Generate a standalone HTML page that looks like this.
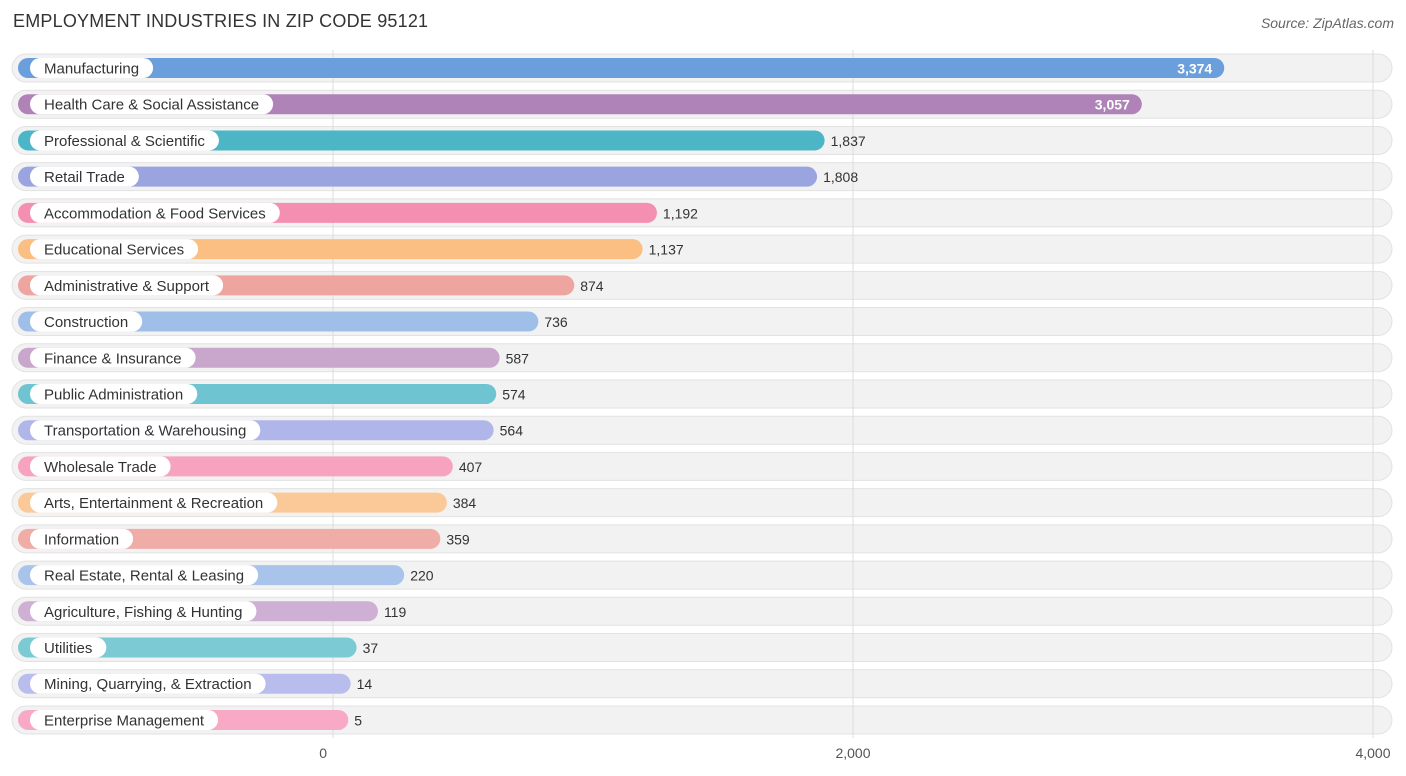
<!DOCTYPE html>
<html><head><meta charset="utf-8"><style>
body{margin:0;background:#fff;font-family:"Liberation Sans",sans-serif;}
#wrap{position:relative;width:1406px;height:776px;overflow:hidden;}
.title{position:absolute;left:13px;top:11px;font-size:18px;color:#333;letter-spacing:0.2px}
.src{position:absolute;right:12px;top:15px;font-size:14px;color:#666;font-style:italic}
</style></head><body>
<div id="wrap">
<div class="title">EMPLOYMENT INDUSTRIES IN ZIP CODE 95121</div>
<div class="src">Source: ZipAtlas.com</div>
<svg id="svg" width="1406" height="776" style="position:absolute;left:0;top:0"></svg>
</div>
<script>
const categories=["Manufacturing","Health Care & Social Assistance","Professional & Scientific","Retail Trade","Accommodation & Food Services","Educational Services","Administrative & Support","Construction","Finance & Insurance","Public Administration","Transportation & Warehousing","Wholesale Trade","Arts, Entertainment & Recreation","Information","Real Estate, Rental & Leasing","Agriculture, Fishing & Hunting","Utilities","Mining, Quarrying, & Extraction","Enterprise Management"];
const values=[3374,3057,1837,1808,1192,1137,874,736,587,574,564,407,384,359,220,119,37,14,5];
const tickValues=[0,2000,4000];
const tickLabels=["0","2,000","4,000"];
const colors=["#6a9fdc","#b083b8","#4db6c6","#9aa5e0","#f48fb1","#fbbf84","#eea59f","#9fbfe8","#c9a6cc","#6fc4d1","#b0b6ea","#f7a3bf","#fbc997","#f0aca6","#a9c4ea","#cdb0d3","#7ccbd4","#b9bdee","#f8a9c6"];
const NS="http://www.w3.org/2000/svg";
const svg=document.getElementById('svg');
const x=v=>333+v*0.26;
const y=i=>68+i*36.22;
function mk(t,a,p){const e=document.createElementNS(NS,t);for(const k in a)e.setAttribute(k,a[k]);(p||svg).appendChild(e);return e;}
// row backgrounds
categories.forEach((c,i)=>{
  const r=mk('rect',{x:12,y:y(i)-14,width:1380,height:28,rx:14,fill:'#f2f2f2',stroke:'#e2e2e2'});
  
  
});
// gridlines
tickValues.forEach((t,j)=>{
  const l=mk('line',{x1:x(t),x2:x(t),y1:50,y2:738,stroke:'#dcdcdc','stroke-width':1});
  
  
  const tx=mk('text',{x:x(t),y:758,'text-anchor':j==0?'end':(j==2?'middle':'middle'),'font-size':14,fill:'#555'});
  if(j==0)tx.setAttribute('x',x(t)-6);
  tx.textContent=tickLabels[j];
  
  
});
categories.forEach((c,i)=>{
  const cy=y(i);
  const end=x(values[i])+14;
  const b=mk('rect',{x:18,y:cy-10,width:end-18,height:20,rx:10,fill:colors[i]});
  
  
  const t=mk('text',{x:44,y:cy+5.5,'font-size':15,fill:'#333'});
  t.textContent=c;
  const w=t.getComputedTextLength();
  const p=mk('rect',{x:30,y:cy-10,width:w+28,height:20,rx:10,fill:'#fff'});
  svg.insertBefore(p,t);
  
  
  
  
  const lbl=values[i].toLocaleString('en-US');
  const inside=values[i]>2500;
  const v=mk('text',{x:inside?end-12:end+6,y:cy+5.5,'font-size':14,'text-anchor':inside?'end':'start',fill:inside?'#fff':'#333','font-weight':inside?'bold':'normal'});
  v.textContent=lbl;
  
  
});
</script>
</body></html>
